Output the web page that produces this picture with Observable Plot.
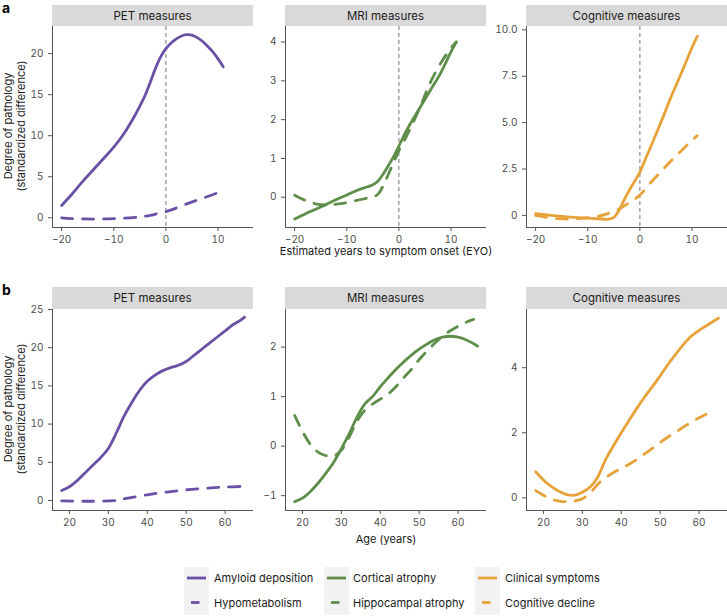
<!DOCTYPE html>
<html><head><meta charset="utf-8">
<script src="https://cdn.jsdelivr.net/npm/d3@7"></script>
<script src="https://cdn.jsdelivr.net/npm/@observablehq/plot@0.6"></script>
<style>
body{margin:0;background:#fff;font-family:Inter,"Noto Sans",sans-serif;}
#root{position:relative;width:727px;height:616px;overflow:hidden;background:#fff;}
.abs{position:absolute;}
.strip{position:absolute;background:#d9d9d9;color:#1a1a1a;font-size:11.5px;display:flex;align-items:center;justify-content:center;}
.ylab{position:absolute;font-size:11px;color:#1a1a1a;white-space:nowrap;transform:translate(-50%,-50%) rotate(-90deg);}
.xlab{position:absolute;font-size:11px;color:#1a1a1a;white-space:nowrap;transform:translate(-50%,-50%);}
.tag{position:absolute;font-size:14px;font-weight:700;color:#000;line-height:14px;}
.lgtext{position:absolute;font-size:11px;color:#1a1a1a;white-space:nowrap;transform:translateY(-50%);}
.keybg{position:absolute;background:#f2f2f2;}
</style>
</head><body>
<div id="root"></div>
<script>
// ---------- data ----------
const colPET = "#6a51a6", colMRI = "#5e8e4a", colCog = "#e8a23a";
const stripTitles = ["PET measures", "MRI measures", "Cognitive measures"];
const legendLabels = [["Amyloid deposition","Hypometabolism"],["Cortical atrophy","Hippocampal atrophy"],["Clinical symptoms","Cognitive decline"]];

// panel a: estimated years to symptom onset (EYO)
const amyloidEYO_x = [-20,-18,-16,-14,-12,-10,-8,-6,-5,-4,-3,-2,-1,0,1,2,3,4,5,6,7,8,9,10,11];
const amyloidEYO_y = [1.5,2.9,4.4,5.8,7.2,8.6,10.3,12.4,13.6,14.9,16.5,18.2,19.6,20.6,21.3,21.8,22.15,22.3,22.25,21.95,21.5,20.9,20.2,19.35,18.4];
const hypoEYO_x = [-20,-17,-14,-11,-8,-5,-3,-2,-1,0,2,4,6,8,10];
const hypoEYO_y = [0.0,-0.12,-0.15,-0.12,-0.05,0.12,0.3,0.45,0.6,0.75,1.2,1.7,2.15,2.6,3.05];
const corticalEYO_x = [-20,-18,-16,-14,-12,-10,-8,-7,-6,-5,-4,-3,-2,-1,0,1,2,4,6,8,10,11];
const corticalEYO_y = [-0.56,-0.43,-0.31,-0.19,-0.06,0.06,0.18,0.23,0.27,0.32,0.42,0.6,0.82,1.05,1.32,1.6,1.85,2.3,2.75,3.2,3.75,4.0];
const hippoEYO_x = [-20,-18,-16,-14,-12,-10,-8,-6,-5,-4,-3,-2,-1,0,1,2,4,6,8,10,11];
const hippoEYO_y = [0.05,-0.08,-0.17,-0.2,-0.18,-0.14,-0.08,-0.02,0.0,0.08,0.3,0.6,0.9,1.2,1.45,1.72,2.3,2.95,3.45,3.85,4.0];
const clinicalEYO_x = [-20,-17,-14,-10,-8,-6,-5,-4,-3,-2,-1,0,1,2,4,6,8,10,11];
const clinicalEYO_y = [0.1,0.0,-0.08,-0.15,-0.18,-0.2,-0.1,0.28,0.85,1.37,1.85,2.33,3.0,3.65,5.0,6.4,7.7,9.05,9.65];
const declineEYO_x = [-20,-17,-14,-11,-8,-6,-4,-2,0,2,4,6,8,10,11];
const declineEYO_y = [0.0,-0.15,-0.2,-0.15,-0.05,0.12,0.35,0.7,1.1,1.75,2.35,2.95,3.5,4.05,4.3];

// panel b: age (years)
const amyloidAge_x = [18,20,22,24,26,28,30,32,34,36,38,40,42,44,46,48,50,52,54,56,58,60,62,64,65];
const amyloidAge_y = [1.3,1.8,2.6,3.6,4.6,5.6,6.8,8.8,11.0,12.8,14.4,15.6,16.4,17.0,17.4,17.7,18.2,19.0,19.8,20.6,21.4,22.2,23.0,23.6,24.0];
const hypoAge_x = [18,25,32,35,40,45,50,55,60,65];
const hypoAge_y = [-0.05,-0.1,0.0,0.3,0.75,1.1,1.4,1.6,1.75,1.85];
const corticalAge_x = [18,20,22,24,26,28,30,32,34,36,38,40,42,44,46,48,50,52,54,56,58,60,62,64,65];
const corticalAge_y = [-1.12,-1.05,-0.92,-0.75,-0.55,-0.33,-0.05,0.25,0.58,0.85,1.0,1.2,1.38,1.55,1.7,1.84,1.96,2.06,2.15,2.2,2.22,2.2,2.15,2.07,2.02];
const hippoAge_x = [18,20,22,24,26,28,30,32,34,36,38,40,42,44,46,48,50,52,54,56,58,60,62,64];
const hippoAge_y = [0.62,0.3,0.04,-0.12,-0.19,-0.2,-0.08,0.18,0.5,0.72,0.85,0.95,1.05,1.2,1.38,1.55,1.75,1.92,2.08,2.22,2.33,2.42,2.5,2.56];
const clinicalAge_x = [18,20,22,24,26,28,30,32,34,36,38,40,42,44,46,48,50,52,54,56,58,60,62,64,65];
const clinicalAge_y = [0.8,0.55,0.35,0.2,0.1,0.08,0.17,0.33,0.65,1.18,1.6,2.0,2.38,2.75,3.1,3.42,3.75,4.1,4.42,4.72,4.97,5.15,5.3,5.45,5.52];
const declineAge_x = [18,20,22,24,26,28,30,32,34,36,38,40,42,44,46,48,50,52,54,56,58,60,62,63];
const declineAge_y = [0.22,0.08,-0.04,-0.1,-0.12,-0.1,-0.03,0.15,0.42,0.62,0.78,0.9,1.03,1.18,1.35,1.52,1.7,1.87,2.02,2.18,2.32,2.46,2.58,2.63];

// tick values
const eyoTicks = [-20,-10,0,10];
const ageTicks = [20,30,40,50,60];
const yTicksA = [[0,5,10,15,20],[0,1,2,3,4],[0,2.5,5,7.5,10]];
const yTicksB = [[0,5,10,15,20,25],[-1,0,1,2],[0,2,4]];

// ---------- helpers ----------
const root = document.getElementById("root");
const zip = (xs, ys) => xs.map((x, i) => ({x, y: ys[i]}));
const DASH = "11,10";
const ML = 40, W = 201, H = 201, MB = 24;

function panel({axisX, top, xDomain, yDomain, xTicks, yTicks, yFormat, solid, dashed, color, vline}) {
  const marks = [
    Plot.axisX({ticks: xTicks, tickSize: 4, tickPadding: 4, label: null, stroke: "#555", color: "#4d4d4d"}),
    Plot.axisY({ticks: yTicks, tickSize: 4, tickPadding: 5, label: null, tickFormat: yFormat, stroke: "#555", color: "#4d4d4d"}),
    Plot.ruleX([xDomain[0]], {stroke: "#555", strokeWidth: 1}),
    Plot.ruleY([yDomain[0]], {stroke: "#555", strokeWidth: 1})
  ];
  if (vline) marks.push(Plot.ruleX([0], {stroke: "#777", strokeWidth: 1, strokeDasharray: "4,3"}));
  marks.push(Plot.line(dashed, {x: "x", y: "y", stroke: color, strokeWidth: 2.8, strokeDasharray: DASH, curve: "catmull-rom"}));
  marks.push(Plot.line(solid, {x: "x", y: "y", stroke: color, strokeWidth: 2.8, curve: "catmull-rom"}));
  const svg = Plot.plot({
    width: ML + W, height: H + MB,
    marginLeft: ML, marginRight: 0, marginTop: 0, marginBottom: MB,
    x: {domain: xDomain},
    y: {domain: yDomain},
    style: {fontSize: "10px", fontFamily: "Inter, 'Noto Sans', sans-serif", background: "transparent", overflow: "visible"},
    marks
  });
  svg.style.position = "absolute";
  svg.style.left = (axisX - ML) + "px";
  svg.style.top = top + "px";
  root.appendChild(svg);
}

function strip(text, left, right, top, bottom) {
  const d = document.createElement("div");
  d.className = "strip";
  d.style.left = left + "px"; d.style.top = top + "px";
  d.style.width = (right - left) + "px"; d.style.height = (bottom - top) + "px";
  d.textContent = text;
  root.appendChild(d);
}
function textDiv(cls, text, x, y) {
  const d = document.createElement("div");
  d.className = cls; d.textContent = text;
  d.style.left = x + "px"; d.style.top = y + "px";
  root.appendChild(d);
}

const axes = [52, 285, 526];
const eyoDomain = [-21.75, 16.8];
const ageDomain = [15.65, 67.3];
const fmt0 = d => d3.format("")(d).replace("-", "\u2212");
const fmtCog = d => d === 0 ? "0" : d.toFixed(1);

// ---------- panel a ----------
const topA = 26;
const setsA = [
  {solid: zip(amyloidEYO_x, amyloidEYO_y), dashed: zip(hypoEYO_x, hypoEYO_y), color: colPET, yDomain: [-1.18, 23.3], yFormat: fmt0},
  {solid: zip(corticalEYO_x, corticalEYO_y), dashed: zip(hippoEYO_x, hippoEYO_y), color: colMRI, yDomain: [-0.78, 4.4], yFormat: fmt0},
  {solid: zip(clinicalEYO_x, clinicalEYO_y), dashed: zip(declineEYO_x, declineEYO_y), color: colCog, yDomain: [-0.65, 10.18], yFormat: fmtCog}
];
setsA.forEach((s, i) => {
  strip(stripTitles[i], axes[i], axes[i] + W, 5, 26);
  panel({axisX: axes[i], top: topA, xDomain: eyoDomain, yDomain: s.yDomain, xTicks: eyoTicks, yTicks: yTicksA[i], yFormat: s.yFormat, solid: s.solid, dashed: s.dashed, color: s.color, vline: true});
});

// ---------- panel b ----------
const topB = 309;
const setsB = [
  {solid: zip(amyloidAge_x, amyloidAge_y), dashed: zip(hypoAge_x, hypoAge_y), color: colPET, yDomain: [-1.31, 25.0]},
  {solid: zip(corticalAge_x, corticalAge_y), dashed: zip(hippoAge_x, hippoAge_y), color: colMRI, yDomain: [-1.30, 2.76]},
  {solid: zip(clinicalAge_x, clinicalAge_y), dashed: zip(declineAge_x, declineAge_y), color: colCog, yDomain: [-0.39, 5.79]}
];
setsB.forEach((s, i) => {
  strip(stripTitles[i], axes[i], axes[i] + W, 287, 309);
  panel({axisX: axes[i], top: topB, xDomain: ageDomain, yDomain: s.yDomain, xTicks: ageTicks, yTicks: yTicksB[i], yFormat: fmt0, solid: s.solid, dashed: s.dashed, color: s.color, vline: false});
});

// ---------- labels ----------
textDiv("tag", "a", 2, 1);
textDiv("tag", "b", 2, 283);
textDiv("ylab", "Degree of pathology", 8, 126);
textDiv("ylab", "(standardized difference)", 21, 126);
textDiv("ylab", "Degree of pathology", 8, 409);
textDiv("ylab", "(standardized difference)", 21, 409);
textDiv("xlab", "Estimated years to symptom onset (EYO)", 386, 251);
textDiv("xlab", "Age (years)", 386, 539);

// ---------- legend ----------
const legendCols = [colPET, colMRI, colCog];
const keyX = [184, 324, 475];
const textX = [214, 353, 505];
const rowY = [578, 602.5];
legendCols.forEach((c, i) => {
  const bg = document.createElement("div");
  bg.className = "keybg";
  bg.style.left = keyX[i] + "px"; bg.style.top = "567px";
  bg.style.width = "25px"; bg.style.height = "48px";
  root.appendChild(bg);
  const ns = "http://www.w3.org/2000/svg";
  const svg = document.createElementNS(ns, "svg");
  svg.setAttribute("width", 25); svg.setAttribute("height", 48);
  svg.style.position = "absolute"; svg.style.left = keyX[i] + "px"; svg.style.top = "567px";
  const l1 = document.createElementNS(ns, "line");
  l1.setAttribute("x1", 3); l1.setAttribute("x2", 22); l1.setAttribute("y1", rowY[0] - 567); l1.setAttribute("y2", rowY[0] - 567);
  l1.setAttribute("stroke", c); l1.setAttribute("stroke-width", 2.8);
  const l2 = document.createElementNS(ns, "line");
  l2.setAttribute("x1", 7); l2.setAttribute("x2", 15.5); l2.setAttribute("y1", rowY[1] - 567); l2.setAttribute("y2", rowY[1] - 567);
  l2.setAttribute("stroke", c); l2.setAttribute("stroke-width", 2.8);
  svg.appendChild(l1); svg.appendChild(l2);
  root.appendChild(svg);
  textDiv("lgtext", legendLabels[i][0], textX[i], rowY[0]);
  textDiv("lgtext", legendLabels[i][1], textX[i], rowY[1]);
});
</script>
</body></html>
